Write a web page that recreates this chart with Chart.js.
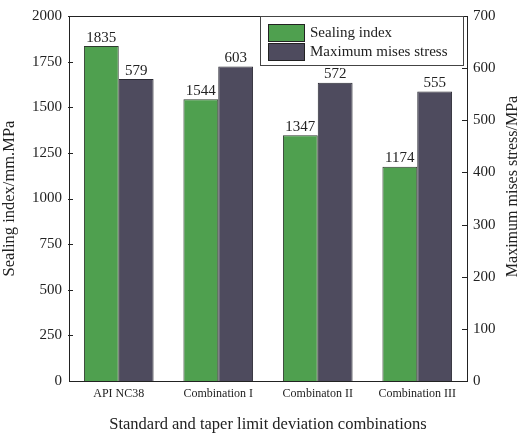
<!DOCTYPE html>
<html>
<head>
<meta charset="utf-8">
<script src="https://cdn.jsdelivr.net/npm/chart.js@4/dist/chart.umd.min.js"></script>
<style>
  html, body { margin: 0; padding: 0; background: #fff; }
  #wrap { width: 523px; height: 435px; }
</style>
</head>
<body>
<div id="wrap"><canvas id="c" width="523" height="435"></canvas></div>
<script>
const categories = ['API NC38', 'Combination I', 'Combinaton II', 'Combination III'];
const sealingIndex = [1835, 1544, 1347, 1174];
const misesStress = [579, 603, 572, 555];
const leftTicks = [0, 250, 500, 750, 1000, 1250, 1500, 1750, 2000];
const rightTicks = [0, 100, 200, 300, 400, 500, 600, 700];
const rightTitle = 'Maximum mises stress/MPa';

const SERIF = '"Liberation Serif", "Times New Roman", serif';
const INK = '#222';
const GREEN = '#4fa04f';
const SLATE = '#4e4b5e';

// Short tick marks that point into the plot area, plus the top edge of the frame
const frameTicks = {
  id: 'frameTicks',
  afterDraw(chart) {
    const { ctx, chartArea: a } = chart;
    ctx.save();
    ctx.strokeStyle = INK;
    ctx.lineWidth = 1;
    ctx.beginPath();
    ctx.moveTo(a.left, a.top + 0.5);
    ctx.lineTo(a.right, a.top + 0.5);
    const yl = chart.scales.y, yr = chart.scales.y1;
    yl.ticks.forEach(t => {
      const py = Math.round(yl.getPixelForValue(t.value)) + 0.5;
      if (t.value === 0) return;
      ctx.moveTo(a.left - 1, py); ctx.lineTo(a.left + 4, py);
    });
    yr.ticks.forEach(t => {
      const py = Math.round(yr.getPixelForValue(t.value)) + 0.5;
      if (t.value === 0) return;
      ctx.moveTo(a.right - 5, py); ctx.lineTo(a.right + 1, py);
    });
    ctx.stroke();
    ctx.restore();
  }
};

// Right axis title, reading bottom to top like the left one
const rightAxisTitle = {
  id: 'rightAxisTitle',
  afterDraw(chart) {
    const { ctx, chartArea: a } = chart;
    const s = chart.scales.y1;
    ctx.save();
    ctx.translate(s.right - 10, (a.top + a.bottom) / 2 - 12);
    ctx.rotate(-Math.PI / 2);
    ctx.font = '16px ' + SERIF;
    ctx.fillStyle = INK;
    ctx.textAlign = 'center';
    ctx.textBaseline = 'middle';
    ctx.fillText(rightTitle, 0, 0);
    ctx.restore();
  }
};

// Value printed above each bar
const barValues = {
  id: 'barValues',
  afterDatasetsDraw(chart) {
    const { ctx } = chart;
    ctx.save();
    ctx.font = '15px ' + SERIF;
    ctx.fillStyle = INK;
    ctx.textAlign = 'center';
    ctx.textBaseline = 'bottom';
    chart.data.datasets.forEach((ds, i) => {
      chart.getDatasetMeta(i).data.forEach((bar, j) => {
        ctx.fillText(String(ds.data[j]), bar.x, bar.y - 1);
      });
    });
    ctx.restore();
  }
};

// Boxed legend in the top-right corner of the plot
const boxLegend = {
  id: 'boxLegend',
  afterDraw(chart) {
    const { ctx, chartArea: a } = chart;
    const w = 203, h = 49;
    const x0 = a.right - w - 4, y0 = a.top;
    ctx.save();
    ctx.fillStyle = '#fff';
    ctx.fillRect(x0, y0, w, h);
    ctx.strokeStyle = '#444';
    ctx.lineWidth = 1;
    ctx.strokeRect(x0 + 0.5, y0 + 0.5, w, h);
    ctx.font = '15px ' + SERIF;
    ctx.textBaseline = 'middle';
    chart.data.datasets.forEach((ds, i) => {
      const sy = y0 + 8 + i * 19;
      ctx.fillStyle = ds.backgroundColor;
      ctx.fillRect(x0 + 8, sy, 36, 17);
      ctx.strokeStyle = '#222';
      ctx.strokeRect(x0 + 8.5, sy + 0.5, 36, 17);
      ctx.fillStyle = INK;
      ctx.fillText(ds.label, x0 + 50, sy + 9);
    });
    ctx.restore();
  }
};

new Chart(document.getElementById('c'), {
  type: 'bar',
  data: {
    labels: categories,
    datasets: [
      { label: 'Sealing index', data: sealingIndex, yAxisID: 'y',
        backgroundColor: GREEN, borderColor: '#2e3a2e', borderWidth: 1 },
      { label: 'Maximum mises stress', data: misesStress, yAxisID: 'y1',
        backgroundColor: SLATE, borderColor: '#2a2a33', borderWidth: 1 }
    ]
  },
  options: {
    responsive: false,
    animation: false,
    devicePixelRatio: 1,
    layout: { padding: { top: 15, left: 0, right: 0, bottom: 0 } },
    datasets: { bar: { categoryPercentage: 0.7, barPercentage: 1.0 } },
    plugins: { legend: { display: false }, tooltip: { enabled: false } },
    scales: {
      x: {
        grid: { display: false, drawTicks: false },
        border: { display: true, color: INK, width: 1 },
        ticks: { color: INK, font: { family: SERIF, size: 12 }, padding: 6, maxRotation: 0 },
        title: { display: true, text: 'Standard and taper limit deviation combinations',
                 color: INK, font: { family: SERIF, size: 16.5 }, padding: { top: 10, bottom: 0 } },
        afterFit(s) { s.height = 54; }
      },
      y: {
        position: 'left',
        min: 0, max: 2000,
        afterBuildTicks(s) { s.ticks = leftTicks.map(v => ({ value: v })); },
        grid: { display: false, drawTicks: false },
        border: { display: true, color: INK, width: 1 },
        ticks: { color: INK, font: { family: SERIF, size: 15 }, padding: 7, callback: v => String(v) },
        title: { display: true, text: 'Sealing index/mm.MPa', color: INK,
                 font: { family: SERIF, size: 16.5 }, padding: { top: 0, bottom: 4 } },
        afterFit(s) { s.width = 69; }
      },
      y1: {
        position: 'right',
        min: 0, max: 700,
        afterBuildTicks(s) { s.ticks = rightTicks.map(v => ({ value: v })); },
        grid: { display: false, drawTicks: false },
        border: { display: true, color: INK, width: 1 },
        ticks: { color: INK, font: { family: SERIF, size: 15 }, padding: 6, callback: v => String(v) },
        title: { display: false },
        afterFit(s) { s.width = 56; }
      }
    }
  },
  plugins: [barValues, frameTicks, boxLegend, rightAxisTitle]
});
</script>
</body>
</html>
